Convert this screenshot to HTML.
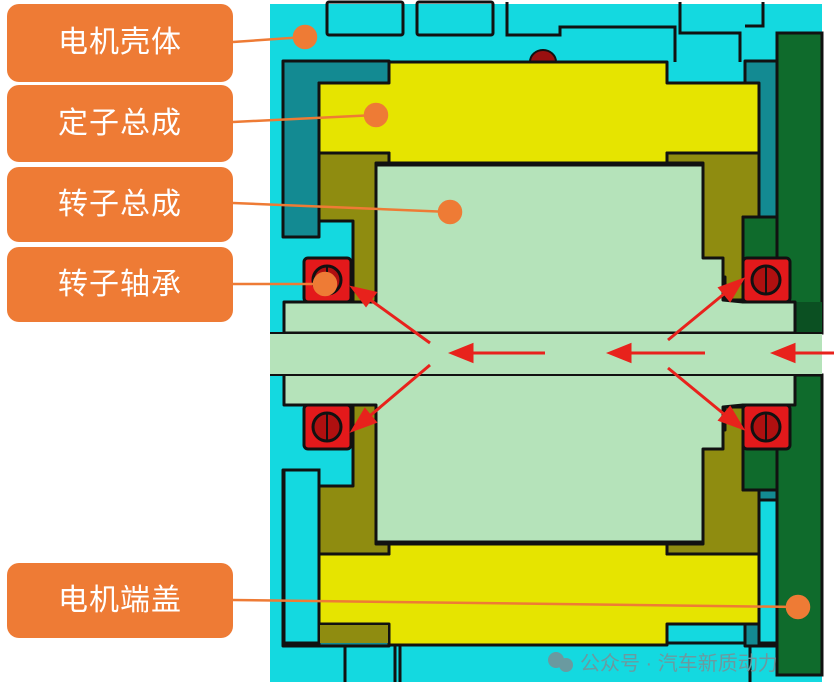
<!DOCTYPE html>
<html><head><meta charset="utf-8"><style>
html,body{margin:0;padding:0;background:#fff;width:834px;height:694px;overflow:hidden}
.lb{position:absolute;left:7px;width:226px;background:#ee7b35;border-radius:12px;color:#fff;font:30px "Liberation Sans","Noto Sans CJK SC",sans-serif;text-align:center;letter-spacing:1px;box-sizing:border-box}
</style></head><body>
<svg width="834" height="694" style="position:absolute;left:0;top:0">
<defs>
<g id="half" stroke="#111" stroke-width="3" stroke-linejoin="round">
<polygon points="283,61 389,61 389,83 319,83 319,237 283,237" fill="#138a92"/>
<rect x="745" y="61" width="32" height="156" fill="#138a92"/>
<polygon points="389,62 667,62 667,83 759,83 759,153 667,153 667,163 389,163 389,153 319,153 319,83 389,83" fill="#e6e400"/>
<polygon points="319,153 389,153 389,163 376,163 376,305 353,305 353,221 319,221" fill="#8f8c10"/>
<polygon points="667,153 759,153 759,217 743,217 743,300 725,300 725,277 703,277 703,163 667,163" fill="#8f8c10"/>
<polygon points="376,165 703,165 703,258 723,258 723,300 743,302 795,302 795,333 284,333 284,302 376,302" fill="#b5e3ba"/>
<rect x="743" y="217" width="34" height="85" fill="#0f6b2c"/>
<rect x="304" y="258" width="47" height="44" rx="4" fill="#e3191b"/>
<rect x="743" y="258" width="47" height="44" rx="4" fill="#e3191b"/>
<circle cx="327" cy="280" r="14" fill="#b01010"/>
<circle cx="766" cy="280" r="14" fill="#b01010"/>
<line x1="327" y1="266" x2="327" y2="294" stroke="#111" stroke-width="2"/>
<line x1="766" y1="266" x2="766" y2="294" stroke="#111" stroke-width="2"/>
</g>
</defs>
<rect x="270" y="4" width="552" height="678" fill="#14d9e0"/>
<g fill="none" stroke="#111" stroke-width="3">
<rect x="327" y="2" width="76" height="33" rx="2"/>
<rect x="417" y="2" width="76" height="33" rx="2"/>
<polyline points="507,2 507,35 560,35 560,27 675,27 675,62"/>
<polyline points="680,2 680,33 740,33 740,62"/>
<polyline points="763,2 763,26 745,26"/>
<polyline points="345,682 345,643 400,643 400,682"/>
<polyline points="395,682 395,643 750,643 750,682"/>
</g>
<path d="M530,62 a13,12 0 0 1 26,0z" fill="#9a1010" stroke="#111" stroke-width="2"/>
<rect x="777" y="33" width="45" height="300" fill="#0f6b2c" stroke="#111" stroke-width="3"/>
<rect x="795" y="302" width="27" height="31" fill="#0b5022"/>
<rect x="777" y="375" width="45" height="300" fill="#0f6b2c" stroke="#111" stroke-width="3"/>
<use href="#half"/>
<g transform="translate(0,707) scale(1,-1)"><use href="#half"/></g>
<rect x="284" y="470" width="35" height="173" fill="#14d9e0" stroke="#111" stroke-width="3"/>
<rect x="320" y="625" width="68" height="18" fill="#8f8c10"/>
<rect x="759" y="500" width="18" height="143" fill="#14d9e0" stroke="#111" stroke-width="3"/>
<rect x="270" y="333" width="552" height="42" fill="#b5e3ba"/>
<line x1="270" y1="333" x2="822" y2="333" stroke="#111" stroke-width="2"/>
<line x1="270" y1="375" x2="822" y2="375" stroke="#111" stroke-width="2"/>
<g stroke="#e8221c" stroke-width="3" fill="#e8221c">
<line x1="545" y1="353" x2="470" y2="353"/><polygon points="452,353 472,345 472,361"/>
<line x1="705" y1="353" x2="628" y2="353"/><polygon points="610,353 630,345 630,361"/>
<line x1="834" y1="353" x2="792" y2="353"/><polygon points="774,353 794,345 794,361"/>
<line x1="430" y1="343" x2="365" y2="296"/><polygon points="353,288 375,293 366,305"/>
<line x1="668" y1="340" x2="730" y2="289"/><polygon points="742,280 730,300 720,288"/>
<line x1="430" y1="365" x2="365" y2="420"/><polygon points="353,430 365,410 375,422"/>
<line x1="668" y1="368" x2="730" y2="419"/><polygon points="742,428 720,420 730,408"/>
</g>
<g stroke="#ee7b35" stroke-width="2.5" fill="#ee7b35">
<line x1="233" y1="42" x2="305" y2="37"/><circle cx="305" cy="37" r="11"/>
<line x1="233" y1="122" x2="376" y2="115"/><circle cx="376" cy="115" r="11"/>
<line x1="233" y1="203" x2="450" y2="212"/><circle cx="450" cy="212" r="11"/>
<line x1="233" y1="284" x2="325" y2="284"/><circle cx="325" cy="284" r="11"/>
<line x1="233" y1="600" x2="798" y2="607"/><circle cx="798" cy="607" r="11"/>
</g>
<text x="580" y="670" font-family="Liberation Sans,Noto Sans CJK SC,sans-serif" font-size="20" fill="#6a9aa0">公众号 · 汽车新质动力</text>
<circle cx="556" cy="660" r="8" fill="#6a9aa0"/><circle cx="566" cy="665" r="7" fill="#6a9aa0"/>
</svg>
<div class="lb" style="top:4px;height:78px;line-height:78px">电机壳体</div>
<div class="lb" style="top:85px;height:77px;line-height:77px">定子总成</div>
<div class="lb" style="top:167px;height:75px;line-height:75px">转子总成</div>
<div class="lb" style="top:247px;height:75px;line-height:75px">转子轴承</div>
<div class="lb" style="top:563px;height:75px;line-height:75px">电机端盖</div>
</body></html>
